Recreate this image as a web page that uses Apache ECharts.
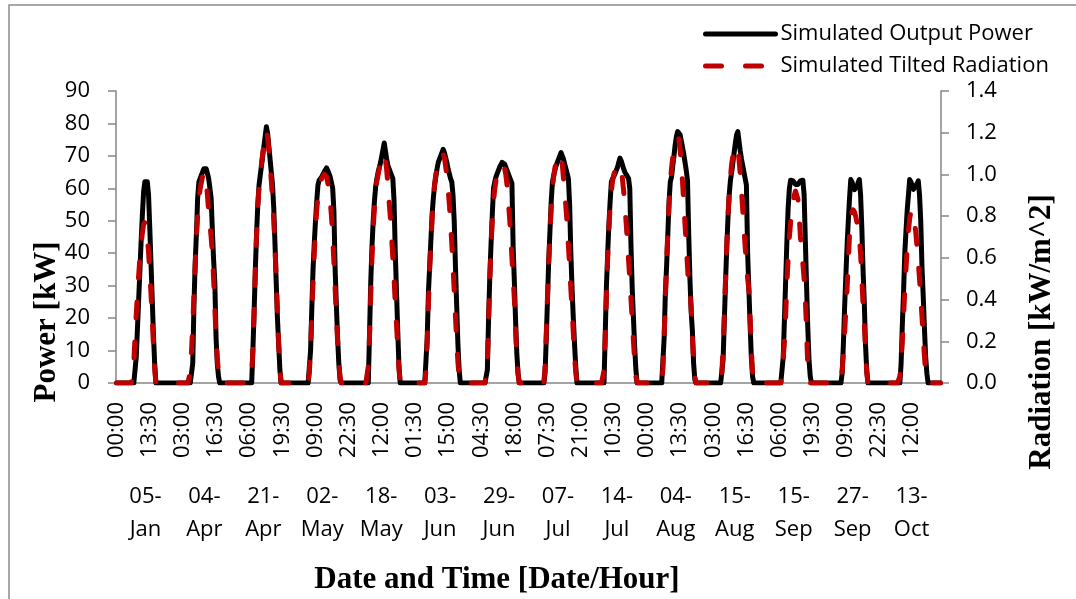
<!DOCTYPE html>
<html>
<head>
<meta charset="utf-8">
<script src="https://cdn.jsdelivr.net/npm/echarts@6/dist/echarts.min.js"></script>
<style>
  html, body { margin: 0; padding: 0; background: #fff; }
  #chart { width: 1076px; height: 599px; }
</style>
</head>
<body>
<div id="chart"></div>
<script>
// Simulated days (outer category level)
const dates = ['05-Jan', '04-Apr', '21-Apr', '02-May', '18-May', '03-Jun', '29-Jun',
               '07-Jul', '14-Jul', '04-Aug', '15-Aug', '15-Sep', '27-Sep', '13-Oct'];

// Half-hourly time stamps within a day (inner category level)
const halfHours = [
  '00:00','00:30','01:00','01:30','02:00','02:30','03:00','03:30','04:00','04:30','05:00','05:30',
  '06:00','06:30','07:00','07:30','08:00','08:30','09:00','09:30','10:00','10:30','11:00','11:30',
  '12:00','12:30','13:00','13:30','14:00','14:30','15:00','15:30','16:00','16:30','17:00','17:30',
  '18:00','18:30','19:00','19:30','20:00','20:30','21:00','21:30','22:00','22:30','23:00','23:30'
];

// Output power [kW], 48 half-hour values per day
const pJan05 = [0,0,0,0,0,0,0,0,0,0,0,0, 0,0,0,0,8,17,26,35,44,52,59,62, 62,62,58,48,37,26,15,6,0,0,0,0, 0,0,0,0,0,0,0,0,0,0,0,0];
const pApr04 = [0,0,0,0,0,0,0,0,0,0,0,0, 0,0,6,24,37,46,57,62,63,64,65,66, 66.5,66,64.5,63,62.5,57,47,38,31,14,6,2, 0,0,0,0,0,0,0,0,0,0,0,0];
const pApr21 = [0,0,0,0,0,0,0,0,0,0,0,0, 0,0,0,10,22,35,46,55,61,64,67,70, 73,76,79,77,73,69,65,61,54,43,31,20, 12,4,0,0,0,0,0,0,0,0,0,0];
const pMay02 = [0,0,0,0,0,0,0,0,0,0,0,0, 0,0,10,23,35,43,50,56,61,62.5,63,63.5, 64,65,65.5,66.3,65.5,64.5,63.5,63,60,53,35,24, 14,6,1,0,0,0,0,0,0,0,0,0];
const pMay18 = [0,0,0,0,0,0,0,0,0,0,0,0, 0,0,15,31,42,50,56,60.5,63,65,66.5,68, 70,72,74,71.5,69,67,66,65,64,63,56,40, 28,16,5,0,0,0,0,0,0,0,0,0];
const pJun03 = [0,0,0,0,0,0,0,0,0,0,0,0, 0,14,28,36,44,52,57,61,63.5,66,68,69, 70,71,72,71,69.5,68,66,64.5,63,62,58,50, 36,24,12,4,0,0,0,0,0,0,0,0];
const pJun29 = [0,0,0,0,0,0,0,0,0,0,0,0, 0,0,4,20,33,43,52,60,62,63.5,64.5,65.5, 66.5,67,68,68.3,67.5,66.5,65.5,64.5,63.5,62.5,61.5,42, 31,19,9,3,0,0,0,0,0,0,0,0];
const pJul07 = [0,0,0,0,0,0,0,0,0,0,0,0, 0,3,14,26,38,47,56,62,64,65.5,67,68, 69,70,71,70.5,69,67.5,66,64.5,63,55,40,29, 20,12,5,0,0,0,0,0,0,0,0,0];
const pJul14 = [0,0,0,0,0,0,0,0,0,0,0,0, 0,0,15,30,40,49,56,62,63,63.7,64.5,65.5, 66.5,68,69.3,68.5,67.3,66,65,64.3,63.7,63,60,42, 29,20,11,4,0,0,0,0,0,0,0,0];
const pAug04 = [0,0,0,0,0,0,0,0,0,0,0,0, 0,0,14,28,36,46,56,62,63.5,67,70,73.5, 76,77.5,78,76.5,74.5,72.5,70.5,68,65.5,62.5,46,32, 22,16,6,1,0,0,0,0,0,0,0,0];
const pAug15 = [0,0,0,0,0,0,0,0,0,0,0,0, 0,0,7,19,31,42,51,58,62.5,65,68,71, 74,76.5,77.5,74.5,71.5,69,67,65,63,61,40,29, 18,8,2,0,0,0,0,0,0,0,0,0];
const pSep15 = [0,0,0,0,0,0,0,0,0,0,0,0, 0,0,0,8,20,32,44,54,60,62.5,62.5,62.3, 61.8,61.2,61,61.2,61.8,62.3,62.5,62.5,58,44,30,17, 7,2,0,0,0,0,0,0,0,0,0,0];
const pSep27 = [0,0,0,0,0,0,0,0,0,0,0,0, 0,0,0,3,12,23.5,33,42.5,50,57,62.7,62, 60.5,59.6,59.8,60.5,61.8,62.7,58,48,35,25,12,4, 0,0,0,0,0,0,0,0,0,0,0,0];
const pOct13 = [0,0,0,0,0,0,0,0,0,0,0,0, 0,0,0,6,18,28,40,47,53.4,58,62.7,62, 60.8,59.7,60,60.8,61.5,62.3,58,50,36,27,17,8, 3,0,0,0,0,0,0,0,0,0,0,0];

// Tilted radiation [kW/m^2], 48 half-hour values per day
const rJan05 = [0,0,0,0,0,0,0,0,0,0,0,0, 0,0,0.1,0.22,0.33,0.43,0.52,0.6,0.67,0.72,0.76,0.77, 0.75,0.7,0.63,0.53,0.43,0.31,0.18,0.07,0,0,0,0, 0,0,0,0,0,0,0,0,0,0,0,0];
const rApr04 = [0,0,0,0,0,0,0,0,0,0,0,0, 0.05,0.15,0.28,0.42,0.56,0.7,0.8,0.88,0.93,0.96,0.99,1.01, 1.0,0.96,0.9,0.82,0.76,0.7,0.62,0.5,0.36,0.22,0.12,0.05, 0,0,0,0,0,0,0,0,0,0,0,0];
const rApr21 = [0,0,0,0,0,0,0,0,0,0,0,0, 0,0,0.04,0.16,0.34,0.54,0.71,0.85,0.94,1.0,1.05,1.1, 1.15,1.19,1.21,1.18,1.12,1.05,0.97,0.88,0.78,0.65,0.5,0.34, 0.19,0.07,0,0,0,0,0,0,0,0,0,0];
const rMay02 = [0,0,0,0,0,0,0,0,0,0,0,0, 0,0.05,0.17,0.32,0.48,0.62,0.74,0.83,0.89,0.93,0.96,0.98, 0.99,1.0,1.0,0.99,0.96,0.92,0.87,0.8,0.7,0.58,0.45,0.32, 0.2,0.1,0.03,0,0,0,0,0,0,0,0,0];
const rMay18 = [0,0,0,0,0,0,0,0,0,0,0,0, 0,0.08,0.22,0.42,0.6,0.74,0.84,0.92,0.97,1.0,1.03,1.06, 1.08,1.1,1.1,1.07,1.02,0.95,0.87,0.79,0.7,0.6,0.5,0.38, 0.28,0.17,0.07,0,0,0,0,0,0,0,0,0];
const rJun03 = [0,0,0,0,0,0,0,0,0,0,0,0, 0.06,0.2,0.38,0.55,0.68,0.79,0.88,0.95,1.0,1.03,1.06,1.08, 1.1,1.1,1.1,1.08,1.04,0.99,0.93,0.86,0.77,0.67,0.56,0.44, 0.32,0.2,0.1,0.03,0,0,0,0,0,0,0,0];
const rJun29 = [0,0,0,0,0,0,0,0,0,0,0,0, 0,0,0.1,0.3,0.5,0.66,0.78,0.87,0.93,0.97,1.0,1.02, 1.03,1.04,1.05,1.05,1.03,1.0,0.95,0.88,0.8,0.71,0.6,0.5, 0.4,0.25,0.12,0.04,0,0,0,0,0,0,0,0];
const rJul07 = [0,0,0,0,0,0,0,0,0,0,0,0, 0,0.08,0.24,0.42,0.58,0.72,0.84,0.93,0.99,1.03,1.06,1.08, 1.1,1.1,1.09,1.05,0.98,0.92,0.84,0.76,0.66,0.56,0.45,0.35, 0.24,0.13,0.05,0,0,0,0,0,0,0,0,0];
const rJul14 = [0,0,0,0,0,0,0,0,0,0,0,0, 0,0.06,0.22,0.42,0.6,0.74,0.85,0.92,0.97,1.0,1.02,1.03, 1.04,1.05,1.05,1.03,0.98,0.92,0.85,0.77,0.68,0.59,0.5,0.4, 0.3,0.2,0.1,0.03,0,0,0,0,0,0,0,0];
const rAug04 = [0,0,0,0,0,0,0,0,0,0,0,0, 0,0.07,0.22,0.4,0.58,0.73,0.86,0.96,1.03,1.08,1.12,1.15, 1.17,1.18,1.17,1.12,1.05,0.96,0.86,0.76,0.66,0.56,0.46,0.44, 0.36,0.22,0.1,0.03,0,0,0,0,0,0,0,0];
const rAug15 = [0,0,0,0,0,0,0,0,0,0,0,0, 0,0.05,0.17,0.33,0.5,0.66,0.8,0.91,0.99,1.05,1.09,1.12, 1.14,1.14,1.12,1.07,1.0,0.92,0.83,0.74,0.65,0.58,0.5,0.45, 0.32,0.16,0.05,0,0,0,0,0,0,0,0,0];
const rSep15 = [0,0,0,0,0,0,0,0,0,0,0,0, 0,0,0.03,0.12,0.2,0.33,0.48,0.6,0.7,0.77,0.83,0.87, 0.9,0.92,0.92,0.88,0.8,0.7,0.63,0.57,0.5,0.4,0.25,0.08, 0.02,0,0,0,0,0,0,0,0,0,0,0];
const rSep27 = [0,0,0,0,0,0,0,0,0,0,0,0, 0,0,0,0.06,0.14,0.24,0.35,0.45,0.58,0.71,0.79,0.82, 0.83,0.82,0.8,0.77,0.74,0.7,0.62,0.5,0.38,0.29,0.16,0.05, 0,0,0,0,0,0,0,0,0,0,0,0];
const rOct13 = [0,0,0,0,0,0,0,0,0,0,0,0, 0,0,0.03,0.1,0.2,0.32,0.44,0.55,0.65,0.73,0.79,0.82, 0.83,0.81,0.77,0.72,0.65,0.58,0.5,0.41,0.32,0.22,0.13,0.05, 0.01,0,0,0,0,0,0,0,0,0,0,0];

// Axis ranges
const powerAxis = { min: 0, max: 90, interval: 10 };
const radiationAxis = { min: 0, max: 1.4, interval: 0.2 };

// Assemble the continuous half-hourly series
const categories = dates.flatMap(d => halfHours.map(h => d + ' ' + h));
const power = [].concat(pJan05, pApr04, pApr21, pMay02, pMay18, pJun03, pJun29,
                        pJul07, pJul14, pAug04, pAug15, pSep15, pSep27, pOct13);
const radiation = [].concat(rJan05, rApr04, rApr21, rMay02, rMay18, rJun03, rJun29,
                            rJul07, rJul14, rAug04, rAug15, rSep15, rSep27, rOct13);

const AXIS_GREY = '#868686';
const SANS = '"Open Sans", "Noto Sans", sans-serif';
const SERIF = '"Liberation Serif", "DejaVu Serif", serif';
const NO_MARKER = { color: 'rgba(0,0,0,0)', borderColor: 'rgba(0,0,0,0)', borderWidth: 0, opacity: 0 };

const chart = echarts.init(document.getElementById('chart'), null, { renderer: 'canvas' });

chart.setOption({
  animation: false,
  backgroundColor: '#ffffff',
  grid: { left: 116, right: 135, top: 91, bottom: 216, containLabel: false },
  legend: {
    orient: 'vertical',
    left: 698,
    top: 18,
    padding: 5,
    itemWidth: 70,
    itemHeight: 14,
    itemGap: 10,
    itemStyle: NO_MARKER,
    lineStyle: { width: 5, cap: 'round' },
    textStyle: { fontSize: 22, fontFamily: SANS, color: '#000' },
    data: [
      { name: 'Simulated Output Power', itemStyle: NO_MARKER },
      { name: 'Simulated Tilted Radiation', itemStyle: NO_MARKER }
    ]
  },
  xAxis: [
    {
      type: 'category',
      data: categories,
      boundaryGap: true,
      position: 'bottom',
      axisLine: { show: true, lineStyle: { color: AXIS_GREY, width: 1.5 } },
      axisTick: { show: false },
      axisLabel: {
        interval: 26,
        rotate: 90,
        margin: 19,
        fontSize: 22,
        fontFamily: SANS,
        color: '#000',
        formatter: v => v.slice(-5)
      },
      splitLine: { show: false }
    },
    {
      type: 'category',
      data: dates,
      boundaryGap: true,
      position: 'bottom',
      axisLine: { show: false },
      axisTick: { show: false },
      axisLabel: {
        interval: 0,
        margin: 97,
        fontSize: 22,
        lineHeight: 33,
        fontFamily: SANS,
        color: '#000',
        formatter: v => v.replace('-', '-\n')
      },
      splitLine: { show: false }
    }
  ],
  yAxis: [
    {
      type: 'value',
      position: 'left',
      min: powerAxis.min, max: powerAxis.max, interval: powerAxis.interval,
      axisLine: { show: true, lineStyle: { color: AXIS_GREY, width: 1.5 } },
      axisTick: { show: true, length: 8, lineStyle: { color: AXIS_GREY, width: 1.5 } },
      axisLabel: { margin: 26, fontSize: 22, fontFamily: SANS, color: '#000' },
      splitLine: { show: false }
    },
    {
      type: 'value',
      position: 'right',
      min: radiationAxis.min, max: radiationAxis.max, interval: radiationAxis.interval,
      axisLine: { show: true, lineStyle: { color: AXIS_GREY, width: 1.5 } },
      axisTick: { show: true, length: 8, lineStyle: { color: AXIS_GREY, width: 1.5 } },
      axisLabel: { margin: 25, fontSize: 22, fontFamily: SANS, color: '#000', formatter: v => v.toFixed(1) },
      splitLine: { show: false }
    }
  ],
  series: [
    {
      name: 'Simulated Output Power',
      type: 'line',
      xAxisIndex: 0,
      yAxisIndex: 0,
      data: power,
      symbol: 'none',
      lineStyle: { color: '#000000', width: 5, cap: 'round', join: 'round' },
      itemStyle: { color: '#000000' },
      z: 2
    },
    {
      name: 'Simulated Tilted Radiation',
      type: 'line',
      xAxisIndex: 0,
      yAxisIndex: 1,
      data: radiation,
      symbol: 'none',
      lineStyle: { color: '#C00000', width: 5, type: [16, 24], cap: 'round', join: 'round' },
      itemStyle: { color: '#C00000' },
      z: 3
    }
  ],
  graphic: [
    {
      type: 'rect',
      silent: true,
      z: -10,
      shape: { x: 9, y: 5, width: 1200, height: 800 },
      style: { fill: 'transparent', stroke: '#8c8c8c', lineWidth: 1.5 }
    },
    {
      type: 'text',
      x: 47, y: 322,
      rotation: Math.PI / 2,
      style: { text: 'Power [kW]', fontSize: 31, fontWeight: 'bold', fontFamily: SERIF, fill: '#000', align: 'center', verticalAlign: 'middle' }
    },
    {
      type: 'text',
      x: 1042, y: 332,
      rotation: Math.PI / 2,
      style: { text: 'Radiation [kW/m^2]', fontSize: 31, fontWeight: 'bold', fontFamily: SERIF, fill: '#000', align: 'center', verticalAlign: 'middle' }
    },
    {
      type: 'text',
      x: 497, y: 580,
      style: { text: 'Date and Time [Date/Hour]', fontSize: 31, fontWeight: 'bold', fontFamily: SERIF, fill: '#000', align: 'center', verticalAlign: 'middle' }
    }
  ]
});
</script>
</body>
</html>
